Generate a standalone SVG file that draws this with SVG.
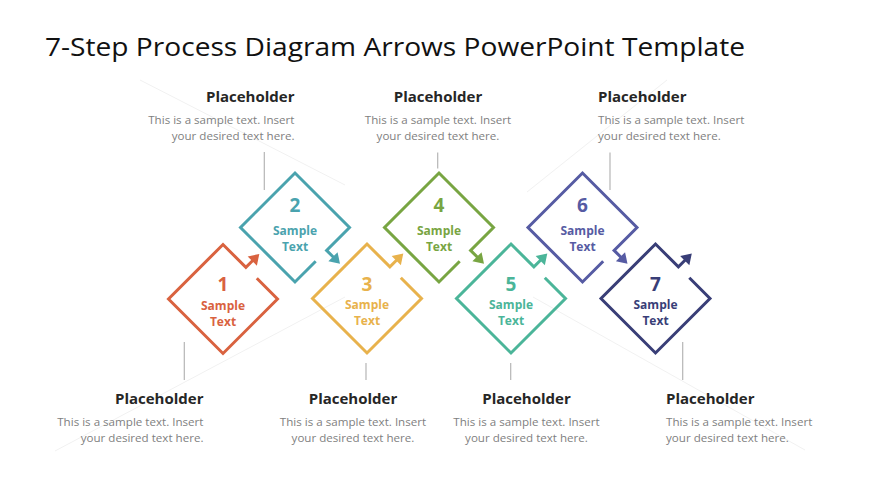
<svg xmlns="http://www.w3.org/2000/svg" xmlns:xlink="http://www.w3.org/1999/xlink" width="870" height="489" viewBox="0 0 870 489">
<style>
.title{font-family:"Open Sans","Noto Sans",sans-serif;font-size:25px;fill:#111111}
.head{font-family:"Open Sans","Noto Sans",sans-serif;font-size:15px;font-weight:700;fill:#262626}
.body{font-family:"Open Sans","Noto Sans",sans-serif;font-size:11.6px;fill:#7f7f7f}
.num{font-family:"Open Sans","Noto Sans",sans-serif;font-size:19px;font-weight:700;fill:currentColor;text-anchor:middle}
.lbl{font-family:"Open Sans","Noto Sans",sans-serif;font-size:12px;font-weight:700;fill:currentColor;text-anchor:middle}
.dia{fill:none;stroke:currentColor;stroke-width:3;stroke-linejoin:miter}
.head-tri{fill:currentColor}
.conn{stroke:#b5b5b5;stroke-width:1.2;fill:none}
.bg{stroke:#f1f1f1;stroke-width:1;fill:none}
.r{text-anchor:end}
.m{text-anchor:middle}
.l{text-anchor:start}
</style>
<defs>
<g id="stepShape">
<path class="dia" d="M33.8,-20.7 L54.5,0 L0,54.5 L-54.5,0 L0,-54.5 L22.9,-31.6 L30.5,-39.2"/>
<polygon class="head-tri" points="36.3,-45 33.86,-33.36 24.66,-42.56"/>
</g>
</defs>
<rect x="0" y="0" width="870" height="489" fill="#ffffff"/>
<g id="background">
<line class="bg" x1="140" y1="80" x2="345" y2="185"/>
<line class="bg" x1="55" y1="451" x2="345" y2="297"/>
<line class="bg" x1="527" y1="192" x2="667" y2="80"/>
<line class="bg" x1="533" y1="297" x2="805" y2="450"/>
</g>
<text class="title" x="45" y="56" textLength="700" lengthAdjust="spacingAndGlyphs">7-Step Process Diagram Arrows PowerPoint Template</text>
<g id="connectors">
<line class="conn" x1="264.3" y1="152" x2="264.3" y2="190"/>
<line class="conn" x1="437.7" y1="152.5" x2="437.7" y2="168.5"/>
<line class="conn" x1="610" y1="152.5" x2="610" y2="190"/>
<line class="conn" x1="184.3" y1="342" x2="184.3" y2="380"/>
<line class="conn" x1="366" y1="363" x2="366" y2="380"/>
<line class="conn" x1="510.7" y1="363" x2="510.7" y2="380"/>
<line class="conn" x1="682.7" y1="342" x2="682.7" y2="380"/>
</g>
<g id="step1" transform="translate(223,299)" style="color:#D9623F">
<use xlink:href="#stepShape"/>
<text class="num" x="0" y="-8">1</text>
<text class="lbl" x="0" y="10.5">Sample</text>
<text class="lbl" x="0" y="26.5">Text</text>
</g>
<g id="step2" transform="translate(295,227.5)" style="color:#4AA3AE">
<use xlink:href="#stepShape" transform="rotate(90)"/>
<text class="num" x="0" y="-15.5">2</text>
<text class="lbl" x="0" y="7.5">Sample</text>
<text class="lbl" x="0" y="23">Text</text>
</g>
<g id="step3" transform="translate(367,298.5)" style="color:#E8B24C">
<use xlink:href="#stepShape"/>
<text class="num" x="0" y="-8">3</text>
<text class="lbl" x="0" y="10.5">Sample</text>
<text class="lbl" x="0" y="26.5">Text</text>
</g>
<g id="step4" transform="translate(439,227.5)" style="color:#78A542">
<use xlink:href="#stepShape" transform="rotate(90)"/>
<text class="num" x="0" y="-15.5">4</text>
<text class="lbl" x="0" y="7.5">Sample</text>
<text class="lbl" x="0" y="23">Text</text>
</g>
<g id="step5" transform="translate(511,298.5)" style="color:#4BB599">
<use xlink:href="#stepShape"/>
<text class="num" x="0" y="-8">5</text>
<text class="lbl" x="0" y="10.5">Sample</text>
<text class="lbl" x="0" y="26.5">Text</text>
</g>
<g id="step6" transform="translate(582.5,227.5)" style="color:#565BA3">
<use xlink:href="#stepShape" transform="rotate(90)"/>
<text class="num" x="0" y="-15.5">6</text>
<text class="lbl" x="0" y="7.5">Sample</text>
<text class="lbl" x="0" y="23">Text</text>
</g>
<g id="step7" transform="translate(655.5,298.5)" style="color:#393E77">
<use xlink:href="#stepShape"/>
<text class="num" x="0" y="-8">7</text>
<text class="lbl" x="0" y="10.5">Sample</text>
<text class="lbl" x="0" y="26.5">Text</text>
</g>
<g id="note-top-1">
<text class="head r" x="294.5" y="102">Placeholder</text>
<text class="body r" x="294.5" y="124">This is a sample text. Insert</text>
<text class="body r" x="294.5" y="140">your desired text here.</text>
</g>
<g id="note-top-2">
<text class="head m" x="438" y="102">Placeholder</text>
<text class="body m" x="438" y="124">This is a sample text. Insert</text>
<text class="body m" x="438" y="140">your desired text here.</text>
</g>
<g id="note-top-3">
<text class="head l" x="598" y="102">Placeholder</text>
<text class="body l" x="598" y="124">This is a sample text. Insert</text>
<text class="body l" x="598" y="140">your desired text here.</text>
</g>
<g id="note-bottom-1">
<text class="head r" x="203.5" y="404">Placeholder</text>
<text class="body r" x="203.5" y="425.5">This is a sample text. Insert</text>
<text class="body r" x="203.5" y="441.5">your desired text here.</text>
</g>
<g id="note-bottom-2">
<text class="head m" x="353" y="404">Placeholder</text>
<text class="body m" x="353" y="425.5">This is a sample text. Insert</text>
<text class="body m" x="353" y="441.5">your desired text here.</text>
</g>
<g id="note-bottom-3">
<text class="head m" x="526.5" y="404">Placeholder</text>
<text class="body m" x="526.5" y="425.5">This is a sample text. Insert</text>
<text class="body m" x="526.5" y="441.5">your desired text here.</text>
</g>
<g id="note-bottom-4">
<text class="head l" x="666" y="404">Placeholder</text>
<text class="body l" x="666" y="425.5">This is a sample text. Insert</text>
<text class="body l" x="666" y="441.5">your desired text here.</text>
</g>
</svg>
